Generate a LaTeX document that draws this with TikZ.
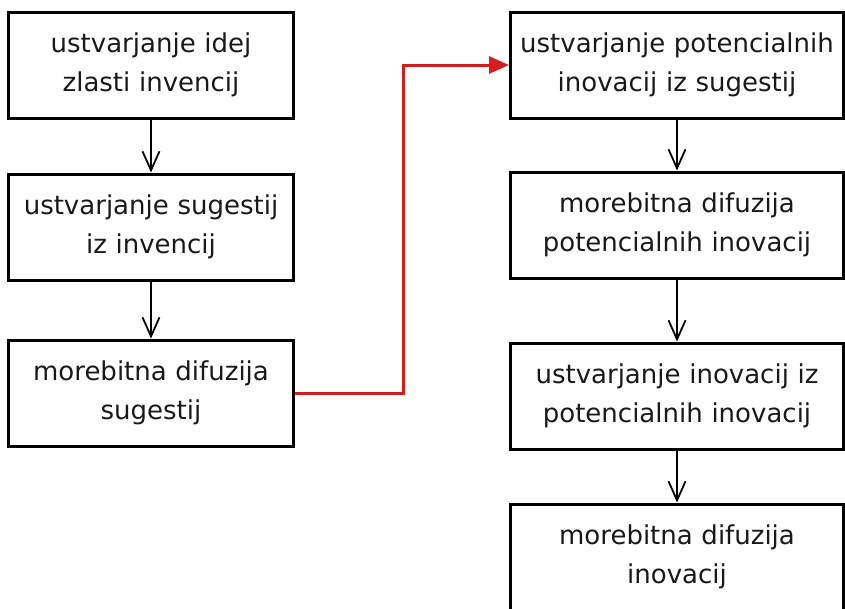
\documentclass[tikz,border=0pt]{standalone}
\usepackage{fontspec}
\setmainfont{DejaVu Sans}
\usepackage{xcolor}
\usetikzlibrary{arrows.meta, positioning}
\definecolor{linkred}{RGB}{210,30,30}
\definecolor{ink}{RGB}{25,25,25}

\begin{document}
\begin{tikzpicture}[x=1pt, y=-1pt, font=\fontsize{26}{39}\selectfont, text=ink,
        box/.style={draw, line width=3pt, align=center, minimum height=106pt, inner sep=0pt},
        lbox/.style={box, minimum width=285pt, text width=285pt},
        rbox/.style={box, minimum width=333pt, text width=333pt},
        flow/.style={line width=2.5pt, -{Straight Barb[length=19pt, width=17pt, line width=1.8pt]}},
        jump/.style={linkred, line width=3pt, -{Triangle[length=20pt, width=17pt]}}]
        \def\Lx{151}
        \def\Rx{677}

        \path[use as bounding box, clip] (0,0) rectangle (845,608);

        \node[lbox] (I) at (\Lx,65) {ustvarjanje idej\\zlasti invencij};
        \node[lbox] (S) at (\Lx,227) {ustvarjanje sugestij\\iz invencij};
        \node[lbox] (DS) at (\Lx,393) {morebitna difuzija\\sugestij};

        \node[rbox] (P) at (\Rx,65) {ustvarjanje potencialnih\\inovacij iz sugestij};
        \node[rbox] (DP) at (\Rx,225) {morebitna difuzija\\potencialnih inovacij};
        \node[rbox] (N) at (\Rx,396) {ustvarjanje inovacij iz\\potencialnih inovacij};
        \node[rbox] (DN) at (\Rx,557) {morebitna difuzija\\inovacij};

        \draw[flow] (I) -- (S);
        \draw[flow] (S) -- (DS);
        \draw[flow] (P) -- (DP);
        \draw[flow] (DP) -- (N);
        \draw[flow] (N) -- (DN);

        \draw[jump] (DS.east) -- ++(108,0) coordinate (K) |- (P.west);
    \end{tikzpicture}
\end{document}
